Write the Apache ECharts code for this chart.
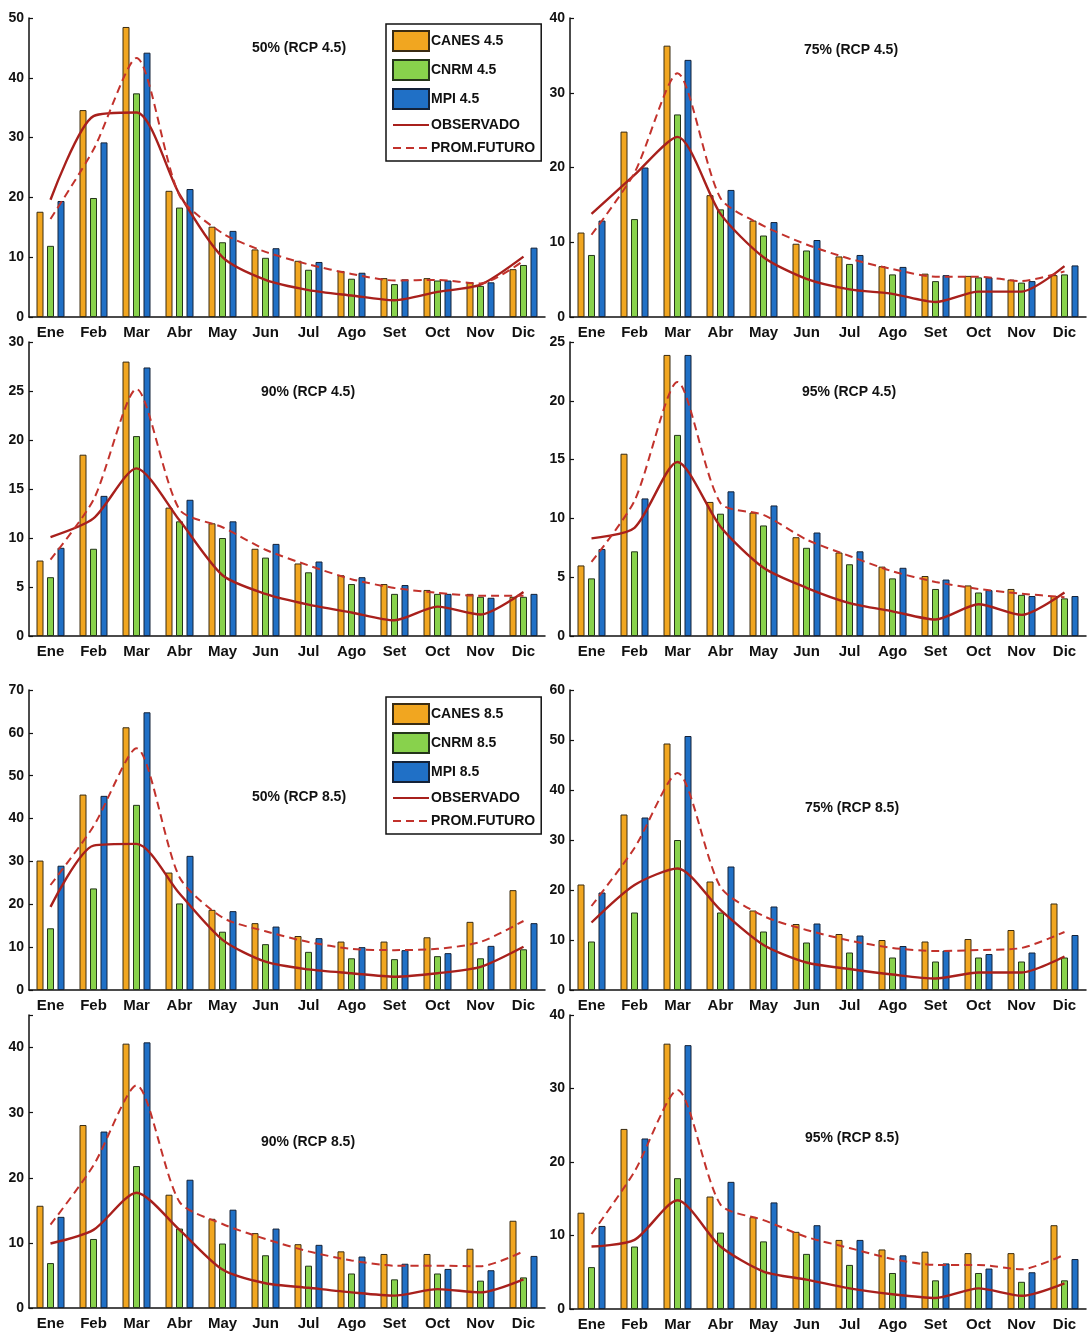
<!DOCTYPE html>
<html>
<head>
<meta charset="utf-8">
<script src="https://cdn.jsdelivr.net/npm/echarts@6/dist/echarts.min.js"></script>
<style>
  html, body { margin: 0; padding: 0; background: #ffffff; }
  #chart { width: 1091px; height: 1336px; }
</style>
</head>
<body>
<div id="chart"></div>
<script>
// Month labels on every x axis
const months = ['Ene', 'Feb', 'Mar', 'Abr', 'May', 'Jun', 'Jul', 'Ago', 'Set', 'Oct', 'Nov', 'Dic'];

// ---- RCP 4.5 ----
// 50 %
const canes45_p50 = [17.6, 34.6, 48.5, 21.1, 15.1, 11.3, 9.4, 7.7, 6.5, 6.5, 5.8, 8.0];
const cnrm45_p50  = [11.9, 19.9, 37.4, 18.3, 12.5, 9.9, 7.9, 6.4, 5.5, 6.1, 5.2, 8.7];
const mpi45_p50   = [19.4, 29.2, 44.2, 21.4, 14.4, 11.5, 9.2, 7.4, 6.3, 6.1, 5.8, 11.6];
const obs45_p50   = [19.6, 33.6, 34.2, 20.5, 10.0, 6.2, 4.5, 3.6, 2.8, 4.2, 5.4, 10.1];
const fut45_p50   = [16.4, 28.0, 43.3, 20.3, 14.0, 10.9, 8.8, 7.2, 6.1, 6.2, 5.6, 9.4];
// 75 %
const canes45_p75 = [11.3, 24.8, 36.3, 16.3, 12.9, 9.8, 8.1, 6.8, 5.8, 5.5, 5.0, 5.6];
const cnrm45_p75  = [8.3, 13.1, 27.1, 14.4, 10.9, 8.9, 7.1, 5.7, 4.8, 5.3, 4.6, 5.7];
const mpi45_p75   = [12.9, 20.0, 34.4, 17.0, 12.7, 10.3, 8.3, 6.7, 5.6, 5.3, 4.8, 6.9];
const obs45_p75   = [13.8, 19.0, 24.1, 13.8, 8.0, 5.1, 3.7, 3.1, 2.0, 3.4, 3.4, 6.8];
const fut45_p75   = [11.0, 19.3, 32.6, 15.9, 12.2, 9.7, 7.8, 6.4, 5.4, 5.4, 4.8, 6.1];
// 90 %
const canes45_p90 = [7.7, 18.5, 28.0, 13.1, 11.5, 8.9, 7.4, 6.2, 5.3, 4.7, 4.3, 4.0];
const cnrm45_p90  = [6.0, 8.9, 20.4, 11.7, 10.0, 8.0, 6.5, 5.3, 4.3, 4.3, 4.0, 4.0];
const mpi45_p90   = [9.0, 14.3, 27.4, 13.9, 11.7, 9.4, 7.6, 6.0, 5.2, 4.3, 3.9, 4.3];
const obs45_p90   = [10.1, 12.0, 17.1, 11.8, 6.2, 4.3, 3.2, 2.4, 1.6, 3.0, 2.2, 4.5];
const fut45_p90   = [7.8, 13.9, 25.2, 12.9, 11.1, 8.8, 7.2, 5.8, 4.9, 4.4, 4.1, 4.1];
// 95 %
const canes45_p95 = [6.0, 15.5, 23.9, 11.4, 10.5, 8.4, 7.1, 5.9, 5.1, 4.3, 4.0, 3.4];
const cnrm45_p95  = [4.9, 7.2, 17.1, 10.4, 9.4, 7.5, 6.1, 4.9, 4.0, 3.7, 3.5, 3.2];
const mpi45_p95   = [7.4, 11.7, 23.9, 12.3, 11.1, 8.8, 7.2, 5.8, 4.8, 3.9, 3.4, 3.4];
const obs45_p95   = [8.3, 9.2, 14.8, 9.3, 5.8, 4.1, 2.8, 2.1, 1.4, 2.7, 1.8, 3.7];
const fut45_p95   = [6.3, 11.5, 21.6, 11.3, 10.3, 8.2, 6.8, 5.5, 4.6, 4.0, 3.6, 3.3];

// ---- RCP 8.5 ----
// 50 %
const canes85_p50 = [30.2, 45.6, 61.3, 27.4, 18.7, 15.6, 12.6, 11.3, 11.3, 12.3, 15.9, 23.3];
const cnrm85_p50  = [14.4, 23.7, 43.2, 20.2, 13.6, 10.7, 8.9, 7.4, 7.2, 7.9, 7.4, 9.5];
const mpi85_p50   = [29.0, 45.3, 64.8, 31.3, 18.4, 14.8, 12.1, 10.0, 9.3, 8.6, 10.3, 15.6];
const obs85_p50   = [19.4, 33.7, 34.1, 22.5, 11.7, 6.6, 4.8, 3.9, 3.1, 3.9, 5.4, 10.1];
const fut85_p50   = [24.5, 38.2, 56.4, 26.3, 16.9, 13.7, 11.2, 9.6, 9.3, 9.6, 11.2, 16.1];
// 75 %
const canes85_p75 = [21.1, 35.1, 49.3, 21.7, 15.9, 13.2, 11.2, 10.0, 9.7, 10.2, 12.0, 17.3];
const cnrm85_p75  = [9.7, 15.5, 30.0, 15.5, 11.7, 9.5, 7.5, 6.5, 5.7, 6.5, 5.7, 6.5];
const mpi85_p75   = [19.5, 34.5, 50.8, 24.7, 16.7, 13.3, 10.9, 8.8, 7.9, 7.2, 7.5, 11.0];
const obs85_p75   = [13.5, 21.0, 24.3, 16.0, 9.0, 5.5, 4.2, 3.1, 2.3, 3.5, 3.5, 6.7];
const fut85_p75   = [16.8, 28.4, 43.4, 20.6, 14.8, 12.0, 9.9, 8.4, 7.8, 8.0, 8.4, 11.6];
// 90 %
const canes85_p90 = [15.7, 28.1, 40.6, 17.4, 13.7, 11.5, 9.8, 8.7, 8.3, 8.3, 9.1, 13.4];
const cnrm85_p90  = [6.9, 10.6, 21.8, 12.2, 9.9, 8.1, 6.5, 5.3, 4.4, 5.3, 4.2, 4.7];
const mpi85_p90   = [14.0, 27.1, 40.8, 19.7, 15.1, 12.2, 9.7, 7.9, 6.8, 6.0, 5.8, 8.0];
const obs85_p90   = [9.9, 12.0, 17.7, 12.0, 5.9, 3.8, 3.1, 2.4, 1.9, 2.9, 2.4, 4.4];
const fut85_p90   = [12.8, 21.9, 34.2, 16.3, 12.9, 10.6, 8.7, 7.3, 6.5, 6.5, 6.4, 8.7];
// 95 %
const canes85_p95 = [13.1, 24.5, 36.1, 15.3, 12.5, 10.5, 9.4, 8.1, 7.8, 7.6, 7.6, 11.4];
const cnrm85_p95  = [5.7, 8.5, 17.8, 10.4, 9.2, 7.5, 6.0, 4.9, 3.9, 4.9, 3.7, 3.9];
const mpi85_p95   = [11.3, 23.2, 35.9, 17.3, 14.5, 11.4, 9.4, 7.3, 6.2, 5.5, 5.0, 6.8];
const obs85_p95   = [8.5, 9.4, 14.8, 8.5, 5.1, 4.0, 2.8, 2.0, 1.5, 2.8, 1.8, 3.5];
const fut85_p95   = [10.2, 18.7, 29.8, 14.2, 12.1, 9.8, 8.3, 6.8, 6.0, 6.0, 5.4, 7.4];

// y-axis ranges (max, step) for each panel
const yMaxes     = [50, 40, 30, 25, 70, 60, 45, 40];
const yIntervals = [10, 10, 5, 5, 10, 10, 10, 10];
const titles = ['50% (RCP 4.5)', '75% (RCP 4.5)', '90% (RCP 4.5)', '95% (RCP 4.5)',
                '50% (RCP 8.5)', '75% (RCP 8.5)', '90% (RCP 8.5)', '95% (RCP 8.5)'];

const panels = [
  { rcp: '4.5', canes: canes45_p50, cnrm: cnrm45_p50, mpi: mpi45_p50, obs: obs45_p50, fut: fut45_p50 },
  { rcp: '4.5', canes: canes45_p75, cnrm: cnrm45_p75, mpi: mpi45_p75, obs: obs45_p75, fut: fut45_p75 },
  { rcp: '4.5', canes: canes45_p90, cnrm: cnrm45_p90, mpi: mpi45_p90, obs: obs45_p90, fut: fut45_p90 },
  { rcp: '4.5', canes: canes45_p95, cnrm: cnrm45_p95, mpi: mpi45_p95, obs: obs45_p95, fut: fut45_p95 },
  { rcp: '8.5', canes: canes85_p50, cnrm: cnrm85_p50, mpi: mpi85_p50, obs: obs85_p50, fut: fut85_p50 },
  { rcp: '8.5', canes: canes85_p75, cnrm: cnrm85_p75, mpi: mpi85_p75, obs: obs85_p75, fut: fut85_p75 },
  { rcp: '8.5', canes: canes85_p90, cnrm: cnrm85_p90, mpi: mpi85_p90, obs: obs85_p90, fut: fut85_p90 },
  { rcp: '8.5', canes: canes85_p95, cnrm: cnrm85_p95, mpi: mpi85_p95, obs: obs85_p95, fut: fut85_p95 }
];

// ---- layout ----
const gridBoxes = [
  { left: 29,  top: 18,   width: 516, height: 299 },
  { left: 570, top: 18,   width: 516, height: 299 },
  { left: 29,  top: 342,  width: 516, height: 294 },
  { left: 570, top: 342,  width: 516, height: 294 },
  { left: 29,  top: 690,  width: 516, height: 300 },
  { left: 570, top: 690,  width: 516, height: 300 },
  { left: 29,  top: 1015, width: 516, height: 293 },
  { left: 570, top: 1015, width: 516, height: 294 }
];
const titlePos = [[299, 48], [851, 50], [308, 392], [849, 392], [299, 797], [852, 808], [308, 1142], [852, 1138]];

const FONT = "'Liberation Sans Narrow', 'Liberation Sans', Arial, sans-serif";
const INK = '#111111';
const COL_CANES = '#f1a620';
const COL_CNRM = '#88d24c';
const COL_MPI = '#2070c6';
const COL_OBS = '#a8201c';
const COL_FUT = '#c2322c';

const grids = [], xAxes = [], yAxes = [], series = [], graphics = [];

panels.forEach((p, i) => {
  grids.push(Object.assign({ containLabel: false }, gridBoxes[i]));
  xAxes.push({
    type: 'category', gridIndex: i, data: months, boundaryGap: true,
    axisLine: { lineStyle: { color: INK, width: 1.5 } },
    axisTick: { show: false },
    axisLabel: { color: INK, fontFamily: FONT, fontWeight: 'bold', fontSize: 15, margin: 8, interval: 0 },
    splitLine: { show: false }
  });
  const yMax = yMaxes[i], yStep = yIntervals[i];
  yAxes.push({
    type: 'value', gridIndex: i, min: 0, max: yMax, interval: yStep,
    axisLine: { show: true, lineStyle: { color: INK, width: 1.5 } },
    axisTick: { show: true, inside: true, length: 4, lineStyle: { color: INK, width: 1.2 } },
    axisLabel: {
      color: INK, fontFamily: FONT, fontWeight: 'bold', fontSize: 14, margin: 5,
      formatter: v => (v % yStep === 0 ? String(v) : '')
    },
    splitLine: { show: false }
  });

  const barBase = {
    type: 'bar', xAxisIndex: i, yAxisIndex: i, barWidth: 7, barGap: '50%',
    animation: false
  };
  series.push(Object.assign({}, barBase, {
    name: 'CANES ' + p.rcp, data: p.canes,
    itemStyle: { color: COL_CANES, borderColor: '#3a2c12', borderWidth: 1 }
  }));
  series.push(Object.assign({}, barBase, {
    name: 'CNRM ' + p.rcp, data: p.cnrm,
    itemStyle: { color: COL_CNRM, borderColor: '#24351a', borderWidth: 1 }
  }));
  series.push(Object.assign({}, barBase, {
    name: 'MPI ' + p.rcp, data: p.mpi,
    itemStyle: { color: COL_MPI, borderColor: '#142238', borderWidth: 1 }
  }));
  series.push({
    type: 'line', name: 'OBSERVADO', xAxisIndex: i, yAxisIndex: i, data: p.obs,
    symbol: 'none', smooth: 0.25, z: 5, animation: false,
    lineStyle: { color: COL_OBS, width: 2.4 }, itemStyle: { color: COL_OBS }
  });
  series.push({
    type: 'line', name: 'PROM.FUTURO', xAxisIndex: i, yAxisIndex: i, data: p.fut,
    symbol: 'none', smooth: 0.25, z: 6, animation: false,
    lineStyle: { color: COL_FUT, width: 2, type: [8, 5] }, itemStyle: { color: COL_FUT }
  });

  graphics.push({
    type: 'text', x: titlePos[i][0], y: titlePos[i][1], z: 10,
    style: {
      text: titles[i], fill: INK, align: 'center', verticalAlign: 'middle',
      font: 'bold 14px ' + FONT
    }
  });
});

function legendFor(rcp, top) {
  return {
    orient: 'vertical', left: 386, top: top,
    data: [
      { name: 'CANES ' + rcp, icon: 'rect' },
      { name: 'CNRM ' + rcp, icon: 'rect' },
      { name: 'MPI ' + rcp, icon: 'rect' },
      // line entries: keep only the stroke, hide the marker
      { name: 'OBSERVADO', itemStyle: { opacity: 0 } },
      { name: 'PROM.FUTURO', itemStyle: { opacity: 0 } }
    ],
    itemWidth: 36, itemHeight: 20, itemGap: 7,
    padding: [6, 6, 5, 6],
    backgroundColor: '#ffffff', borderColor: INK, borderWidth: 1.5,
    selectedMode: false,
    textStyle: { color: INK, fontFamily: FONT, fontWeight: 'bold', fontSize: 14, padding: [0, 0, 0, -3] }
  };
}

const chart = echarts.init(document.getElementById('chart'), null, { renderer: 'canvas' });
chart.setOption({
  backgroundColor: '#ffffff',
  animation: false,
  grid: grids,
  xAxis: xAxes,
  yAxis: yAxes,
  legend: [legendFor('4.5', 24), legendFor('8.5', 697)],
  graphic: graphics,
  series: series
});
</script>
</body>
</html>
